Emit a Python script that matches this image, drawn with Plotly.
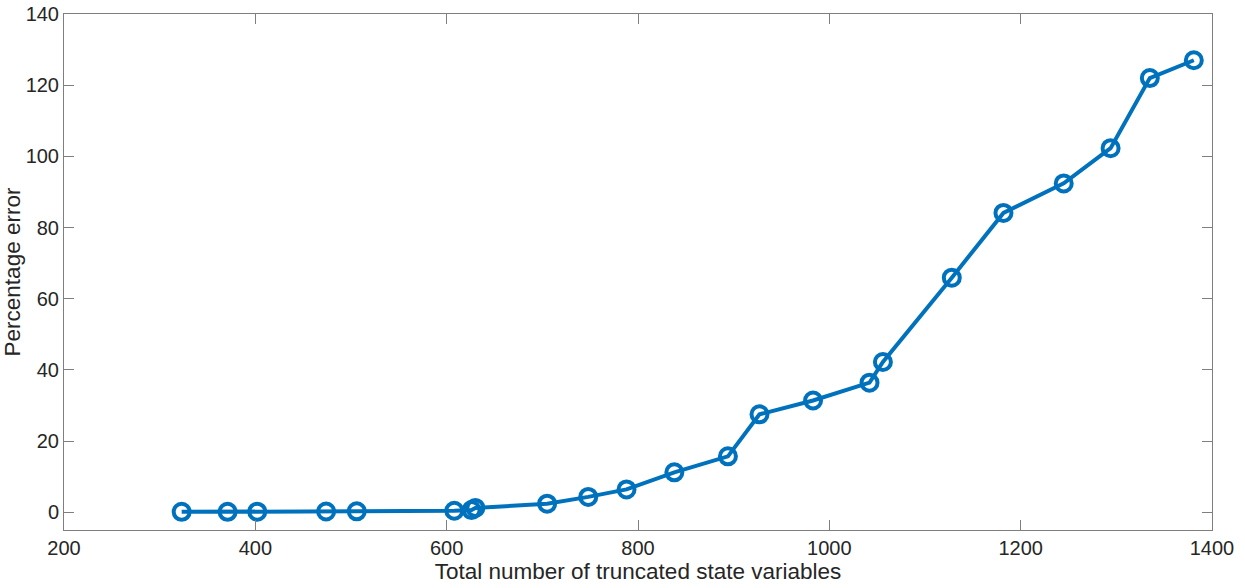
import plotly.graph_objects as go

x_vals = [323, 371, 402, 474, 506, 608, 626, 630, 705, 748, 788, 838, 894, 927, 983, 1042, 1056, 1128, 1182, 1245, 1294, 1335, 1381]
y_vals = [0.1, 0.1, 0.15, 0.2, 0.25, 0.4, 0.6, 1.2, 2.4, 4.3, 6.4, 11.2, 15.7, 27.5, 31.4, 36.4, 42.2, 65.9, 84.1, 92.4, 102.3, 122.0, 127.0]

x_ticks = [200, 400, 600, 800, 1000, 1200, 1400]
y_ticks = [0, 20, 40, 60, 80, 100, 120, 140]

color = "#0072BD"
FONT = "Liberation Sans, Arial, sans-serif"

fig = go.Figure()
fig.add_trace(go.Scatter(
    x=x_vals, y=y_vals, mode="lines+markers",
    line=dict(color=color, width=4),
    marker=dict(symbol="circle-open", size=16, color=color, line=dict(width=4, color=color)),
    showlegend=False,
))

axis_common = dict(
    showgrid=False, zeroline=False, showline=True, linecolor="#7f7f7f", linewidth=1,
    mirror="ticks", ticks="inside", ticklen=10, tickcolor="#7f7f7f", tickwidth=1,
    tickfont=dict(family=FONT, size=20, color="#262626"),
    automargin=False,
)

fig.update_layout(
    width=1245, height=588,
    margin=dict(l=64, r=33, t=14, b=58),
    paper_bgcolor="white", plot_bgcolor="white",
    xaxis=dict(range=[200, 1400], tickvals=x_ticks,
               title=dict(text="Total number of truncated state variables",
                          font=dict(family=FONT, size=22.5, color="#262626"),
                          standoff=4),
               **axis_common),
    yaxis=dict(range=[-5, 140], tickvals=y_ticks,
               title=dict(text="Percentage error",
                          font=dict(family=FONT, size=22.5, color="#262626"),
                          standoff=6),
               **axis_common),
)

fig.write_html("out.html")
